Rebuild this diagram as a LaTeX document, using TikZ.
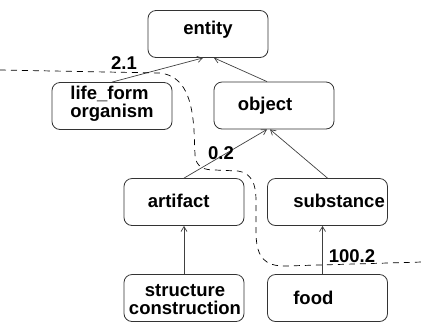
\documentclass[tikz,border=0pt]{standalone}
\usepackage{fontspec}
\setmainfont{Liberation Sans}
\usepackage{tikz}
\usetikzlibrary{arrows.meta,calc}
\tikzset{
    box/.style={draw=black!80, rounded corners=8pt, minimum width=120pt, minimum height=47pt, line width=0.8pt},
    txt/.style={inner sep=0pt, font=\fontsize{18.5}{18}\selectfont\bfseries},
    isa/.style={draw=black!75, line width=0.7pt, -{Straight Barb[length=5pt,width=6pt]}}}

\begin{document}
\begin{tikzpicture}[x=1pt,y=-1pt]
\useasboundingbox (0,0) rectangle (422,325);
% boxes
\node[box] (entity) at (208,34) {};
\node[box] (lifeform) at (112,106) {};
\node[box] (object) at (274,105.5) {};
\node[box] (artifact) at (184,202) {};
\node[box] (substance) at (327.5,202) {};
\node[box] (structure) at (184,298) {};
\node[box] (food) at (327.5,298) {};
% texts
\node[txt, anchor=base] (entityT) at (208,34) {entity};
\node[txt, align=left] (lifeformT) at (112,104) {life\_form\\organism};
\node[txt, anchor=base west] (objectT) at ($(object.west)+(24,5)$) {object};
\node[txt, anchor=base west] (artifactT) at ($(artifact.west)+(24,5)$) {artifact};
\node[txt, anchor=base west] (substanceT) at ($(substance.west)+(26,5)$) {substance};
\node[txt, align=center] (structureT) at (185,300) {structure\\construction};
\node[txt, anchor=base west] (foodT) at ($(food.west)+(26,6)$) {food};
% links
\draw[isa] (lifeform.north) -- ([xshift=-5pt]entity.south);
\draw[isa] ([xshift=-7pt]object.north) -- ([xshift=6pt]entity.south);
\draw[isa] (artifact.north) -- ([xshift=-7pt]object.south);
\draw[isa] (substance.north) -- ([xshift=-4pt]object.south);
\draw[isa] (structure.north) -- (artifact.south);
\draw[isa] ([xshift=-5pt]food.north) -- ([xshift=-5pt]substance.south);
% weights
\node[txt] (w1) at (124,63) {2.1};
\node[txt] (w2) at (221,153.5) {0.2};
\node[txt] (w3) at (352,256) {100.2};
% cut
\draw[dashed, line width=0.7pt, dash pattern=on 6pt off 5pt]
  (0,70) -- (160,73) .. controls (185,76) and (192,100) .. (194,130) -- (195,155)
  .. controls (196,168) and (205,170) .. (215,170) -- (238,171)
  .. controls (252,173) and (256,185) .. (256,200) -- (256,235)
  .. controls (257,258) and (265,266) .. (285,266) -- (422,262);
\end{tikzpicture}
\end{document}
